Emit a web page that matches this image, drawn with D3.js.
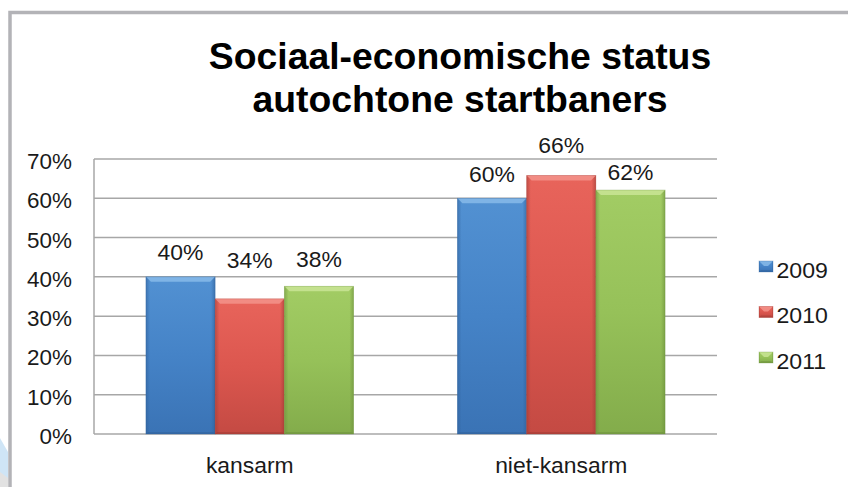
<!DOCTYPE html>
<html>
<head>
<meta charset="utf-8">
<script src="https://cdn.jsdelivr.net/npm/d3@7"></script>
<style>
  html, body { margin: 0; padding: 0; background: #fff; }
  svg { display: block; }
  text { font-family: "Liberation Sans", Arial, Helvetica, sans-serif; }
</style>
</head>
<body>
<svg id="chart" width="848" height="487"></svg>
<script>
// ---- data ----
const titleLines = ["Sociaal-economische status", "autochtone startbaners"];
const categories = ["kansarm", "niet-kansarm"];
const seriesNames = ["2009", "2010", "2011"];
const values2009 = [0.40, 0.60];
const values2010 = [0.344, 0.658];
const values2011 = [0.376, 0.621];
const yTicks = [0, 0.1, 0.2, 0.3, 0.4, 0.5, 0.6, 0.7];

// ---- styling / layout config ----
const colors = {
  "2009": { top: "#5291d2", mid: "#4583c7", bot: "#3a73b5", light: "#8fc0ec", dark: "#2f5f98" },
  "2010": { top: "#e8645b", mid: "#dc574f", bot: "#c44a43", light: "#f59a92", dark: "#9e3a34" },
  "2011": { top: "#a2cc64", mid: "#96c159", bot: "#83ac4b", light: "#cfe89c", dark: "#6b8e3b" }
};
// label lift above bar top (px), per category per series
const labelLift = [[17, 31, 19], [16, 23, 10]];

const seriesValues = [values2009, values2010, values2011];
const svg = d3.select("#chart");
const defs = svg.append("defs");

// frame
svg.append("polygon").attr("points", "0,438 8,452 8,487 0,487").attr("fill", "#cfe5f6");
svg.append("polygon").attr("points", "0,472 8,478 8,487 0,487").attr("fill", "#e2e2e2");
svg.append("path").attr("d", "M10,492 L10,12.5 L852,12.5")
  .attr("fill", "none").attr("stroke", "#b3b3b7").attr("stroke-width", 3.5);

function stext(g, x, y, txt, size, anchor, sx, weight, fill) {
  return g.append("text")
    .attr("transform", `translate(${x},${y}) scale(${sx},1)`)
    .attr("text-anchor", anchor)
    .attr("font-size", size)
    .attr("font-weight", weight || "normal")
    .attr("fill", fill || "#1a1a1a")
    .text(txt);
}

// title
const tg = svg.append("g");
stext(tg, 460, 69, titleLines[0], 37, "middle", 1.01, "bold", "#000");
stext(tg, 460, 112, titleLines[1], 37, "middle", 1.01, "bold", "#000");

// scales
const plot = { left: 94, right: 717, top: 159, bottom: 434 };
const y = d3.scaleLinear().domain([0, 0.7]).range([plot.bottom, plot.top]);
const x0 = d3.scaleBand().domain(categories).range([plot.left, plot.right]).padding(0);
const x1 = d3.scaleBand().domain(seriesNames).range([0, x0.bandwidth()]).paddingInner(0).paddingOuter(0.75);

// gridlines
const grid = svg.append("g");
grid.selectAll("line").data(yTicks).join("line")
  .attr("x1", plot.left).attr("x2", plot.right)
  .attr("y1", d => y(d)).attr("y2", d => y(d))
  .attr("stroke", "#a7a7a7").attr("stroke-width", 1.5);
grid.append("line").attr("x1", plot.left).attr("x2", plot.left)
  .attr("y1", y(0.7)).attr("y2", y(0)).attr("stroke", "#a7a7a7").attr("stroke-width", 1.5);

// y axis labels
const fmt = d3.format(".0%");
const yl = svg.append("g");
yTicks.forEach(t => stext(yl, 72, y(t) + 10, fmt(t), 22, "end", 1.02));

// gradients
seriesNames.forEach((s, i) => {
  const c = colors[s];
  const lg = defs.append("linearGradient").attr("id", "g" + i).attr("x1", 0).attr("y1", 0).attr("x2", 0).attr("y2", 1);
  lg.append("stop").attr("offset", "0%").attr("stop-color", c.top);
  lg.append("stop").attr("offset", "50%").attr("stop-color", c.mid);
  lg.append("stop").attr("offset", "100%").attr("stop-color", c.bot);
  const hg = defs.append("linearGradient").attr("id", "h" + i).attr("x1", 0).attr("y1", 0).attr("x2", 1).attr("y2", 0);
  hg.append("stop").attr("offset", "0%").attr("stop-color", c.dark).attr("stop-opacity", 0.55);
  hg.append("stop").attr("offset", "6%").attr("stop-color", c.dark).attr("stop-opacity", 0);
  hg.append("stop").attr("offset", "94%").attr("stop-color", c.dark).attr("stop-opacity", 0);
  hg.append("stop").attr("offset", "100%").attr("stop-color", c.dark).attr("stop-opacity", 0.6);
});

function drawBar(g, bx, by, bw, bh, i, c) {
  g.append("rect").attr("x", bx).attr("y", by).attr("width", bw).attr("height", bh).attr("fill", `url(#g${i})`);
  g.append("rect").attr("x", bx).attr("y", by).attr("width", bw).attr("height", bh).attr("fill", `url(#h${i})`);
  const bv = Math.min(5, bh / 2);
  g.append("polygon")
    .attr("points", `${bx},${by} ${bx + bw},${by} ${bx + bw - bv},${by + bv} ${bx + bv},${by + bv}`)
    .attr("fill", c.light).attr("opacity", 0.75);
  g.append("polygon")
    .attr("points", `${bx},${by + bh} ${bx + bw},${by + bh} ${bx + bw - 2},${by + bh - 2} ${bx + 2},${by + bh - 2}`)
    .attr("fill", c.dark).attr("opacity", 0.5);
  g.append("rect").attr("x", bx).attr("y", by).attr("width", bw).attr("height", bh)
    .attr("fill", "none").attr("stroke", c.dark).attr("stroke-opacity", 0.35).attr("stroke-width", 0.8);
}

// bars
const bars = svg.append("g");
const labels = svg.append("g");
categories.forEach((cat, ci) => {
  seriesNames.forEach((s, si) => {
    const v = seriesValues[si][ci];
    const bx = x0(cat) + x1(s);
    const bw = x1.bandwidth();
    const by = y(v);
    drawBar(bars, bx, by, bw, y(0) - by, si, colors[s]);
    stext(labels, bx + bw / 2, by - labelLift[ci][si], fmt(v), 22.5, "middle", 1.02);
  });
});

// category labels
const xl = svg.append("g");
categories.forEach(cat => stext(xl, x0(cat) + x0.bandwidth() / 2, 473, cat, 22, "middle", 1.04));

// legend
const lgG = svg.append("g");
seriesNames.forEach((s, i) => {
  const ly = 261 + i * 45.5;
  drawBar(lgG, 759, ly, 14, 11, i, colors[s]);
  stext(lgG, 776.5, ly + 16.5, s, 22, "start", 1.05);
});
</script>
</body>
</html>
